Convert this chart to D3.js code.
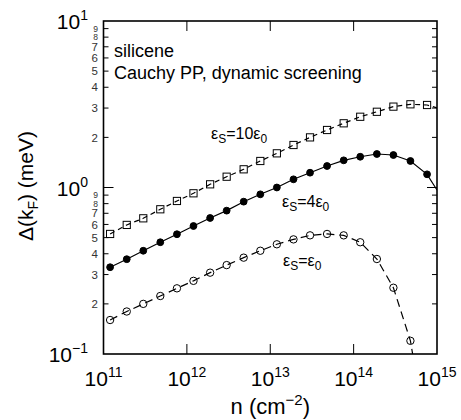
<!DOCTYPE html>
<html>
<head>
<meta charset="utf-8">
<script src="https://cdn.jsdelivr.net/npm/d3@7"></script>
<style>
  body { margin: 0; background: #fff; }
  text { font-family: "Liberation Sans", Arial, sans-serif; }
</style>
</head>
<body>
<svg id="chart" width="461" height="420"></svg>
<script>
// carrier density (cm^-2) of the computed points
const density = [1.2e11, 1.9e11, 3.0e11, 4.8e11, 7.6e11, 1.2e12, 1.9e12, 3.0e12, 4.8e12, 7.6e12,
                 1.2e13, 1.9e13, 3.0e13, 4.8e13, 7.6e13, 1.2e14, 1.9e14, 3.0e14, 4.8e14, 7.6e14];

// gap Delta(kF) in meV
const gapEps10 = [0.526, 0.596, 0.653, 0.740, 0.830, 0.923, 1.045, 1.161, 1.286, 1.443,
                  1.604, 1.80, 2.00, 2.215, 2.43, 2.66, 2.85, 3.06, 3.16, 3.13];
const gapEps4 = [0.332, 0.371, 0.417, 0.469, 0.524, 0.587, 0.656, 0.726, 0.822, 0.910,
                 1.00, 1.12, 1.227, 1.346, 1.456, 1.53, 1.589, 1.567, 1.443, 1.20];
const gapEps1 = [0.160, 0.180, 0.200, 0.223, 0.248, 0.275, 0.308, 0.342, 0.379, 0.417,
                 0.456, 0.488, 0.516, 0.526, 0.516, 0.469, 0.372, 0.250, 0.120];

// where each curve leaves the frame
const tailEps10 = [1e15, 3.01];
const tailEps4 = [1e15, 0.966];
const tailEps1 = [5.1e14, 0.1];

const xMajor = [1e11, 1e12, 1e13, 1e14, 1e15];
const xMajorExp = ["11", "12", "13", "14", "15"];
const yMajor = [0.1, 1, 10];
const yMajorExp = ["\u22121", "0", "1"];
const yMinorDigits = [2, 3, 4, 5, 6, 7, 8, 9];

const svg = d3.select("#chart");
const plotL = 103.5, plotR = 437, plotT = 21, plotB = 354;

const x = d3.scaleLog().domain([1e11, 1e15]).range([plotL, plotR]);
const y = d3.scaleLog().domain([0.1, 10]).range([plotB, plotT]);

svg.append("defs").append("clipPath").attr("id", "plotClip")
  .append("rect")
  .attr("x", plotL).attr("y", plotT)
  .attr("width", plotR - plotL).attr("height", plotB - plotT);

// minor y ticks: digits 2..9 in each decade
const yMinor = [];
[0.1, 1].forEach(d => yMinorDigits.forEach(k => yMinor.push({ v: d * k, k: k })));

const ticks = svg.append("g").attr("stroke", "#000").attr("stroke-width", 1);
yMinor.forEach(t => {
  ticks.append("line").attr("x1", plotL).attr("x2", plotL + 5).attr("y1", y(t.v)).attr("y2", y(t.v));
  ticks.append("line").attr("x1", plotR).attr("x2", plotR - 5).attr("y1", y(t.v)).attr("y2", y(t.v));
});
[1].forEach(v => {
  ticks.append("line").attr("x1", plotL).attr("x2", plotL + 10).attr("y1", y(v)).attr("y2", y(v));
  ticks.append("line").attr("x1", plotR).attr("x2", plotR - 10).attr("y1", y(v)).attr("y2", y(v));
});
xMajor.slice(1, 4).forEach(v => {
  ticks.append("line").attr("x1", x(v)).attr("x2", x(v)).attr("y1", plotB).attr("y2", plotB - 10);
  ticks.append("line").attr("x1", x(v)).attr("x2", x(v)).attr("y1", plotT).attr("y2", plotT + 10);
});

// frame
svg.append("rect")
  .attr("x", plotL).attr("y", plotT)
  .attr("width", plotR - plotL).attr("height", plotB - plotT)
  .attr("fill", "none").attr("stroke", "#000").attr("stroke-width", 1.6);

// minor labels; 8 and 9 are squeezed smaller so they fit between their ticks
svg.append("g").selectAll("text").data(yMinor).join("text")
  .attr("x", 98).attr("y", d => y(d.v)).attr("dy", "0.36em")
  .attr("text-anchor", "end")
  .attr("font-size", d => d.k >= 8 ? 8.5 : 11.5)
  .attr("fill", "#333")
  .text(d => d.k);

// major y labels
yMajor.forEach((v, i) => {
  const t = svg.append("text").attr("x", 88).attr("y", y(v) + 8)
    .attr("text-anchor", "end").attr("font-size", 21);
  t.append("tspan").text("10");
  t.append("tspan").attr("dy", -9).attr("font-size", 14).text(yMajorExp[i]);
});

// major x labels
xMajor.forEach((v, i) => {
  const t = svg.append("text").attr("x", x(v)).attr("y", 386)
    .attr("text-anchor", "middle").attr("font-size", 21);
  t.append("tspan").text("10");
  t.append("tspan").attr("dy", -9).attr("font-size", 14).text(xMajorExp[i]);
});

// axis titles
const xt = svg.append("text").attr("x", (plotL + plotR) / 2).attr("y", 414)
  .attr("text-anchor", "middle").attr("font-size", 22);
xt.append("tspan").text("n (cm");
xt.append("tspan").attr("dy", -9).attr("font-size", 15).text("\u22122");
xt.append("tspan").attr("dy", 9).text(")");

const yt = svg.append("text").attr("transform", "translate(33,186) rotate(-90)")
  .attr("text-anchor", "middle").attr("font-size", 21);
yt.append("tspan").text("\u0394(k");
yt.append("tspan").attr("dy", 5).attr("font-size", 14).text("F");
yt.append("tspan").attr("dy", -5).text(") (meV)");

// curves
const line = d3.line().x(d => x(d[0])).y(d => y(d[1]));
const series = [
  { vals: gapEps10, tail: tailEps10, dash: "5,4", marker: "square" },
  { vals: gapEps4, tail: tailEps4, dash: null, marker: "filled" },
  { vals: gapEps1, tail: tailEps1, dash: "8,5", marker: "circle" }
];

const plot = svg.append("g").attr("clip-path", "url(#plotClip)");
series.forEach(s => {
  const pts = s.vals.map((v, i) => [density[i], v]);
  plot.append("path")
    .attr("d", line(pts.concat([s.tail])))
    .attr("fill", "none").attr("stroke", "#000").attr("stroke-width", 1.2)
    .attr("stroke-dasharray", s.dash);

  const g = svg.append("g");
  if (s.marker === "square") {
    g.selectAll("rect").data(pts).join("rect")
      .attr("x", d => x(d[0]) - 3.6).attr("y", d => y(d[1]) - 3.6)
      .attr("width", 7.2).attr("height", 7.2)
      .attr("fill", "none").attr("stroke", "#000").attr("stroke-width", 1);
  } else {
    g.selectAll("circle").data(pts).join("circle")
      .attr("cx", d => x(d[0])).attr("cy", d => y(d[1]))
      .attr("r", s.marker === "filled" ? 3.4 : 3.7)
      .attr("fill", s.marker === "filled" ? "#000" : "none")
      .attr("stroke", "#000").attr("stroke-width", 1);
  }
});

// annotations
svg.append("text").attr("x", 114).attr("y", 57).attr("font-size", 18).text("silicene");
svg.append("text").attr("x", 114).attr("y", 79).attr("font-size", 18).text("Cauchy PP, dynamic screening");

function epsLabel(px, py, coef) {
  const t = svg.append("text").attr("x", px).attr("y", py).attr("font-size", 16).attr("fill", "#000");
  t.append("tspan").text("\u03b5");
  t.append("tspan").attr("dy", 4).attr("font-size", 12).text("S");
  t.append("tspan").attr("dy", -4).text("=" + coef + "\u03b5");
  t.append("tspan").attr("dy", 4).attr("font-size", 12).text("0");
}
epsLabel(211, 139, "10");
epsLabel(282, 207, "4");
epsLabel(283, 266, "");
</script>
</body>
</html>
